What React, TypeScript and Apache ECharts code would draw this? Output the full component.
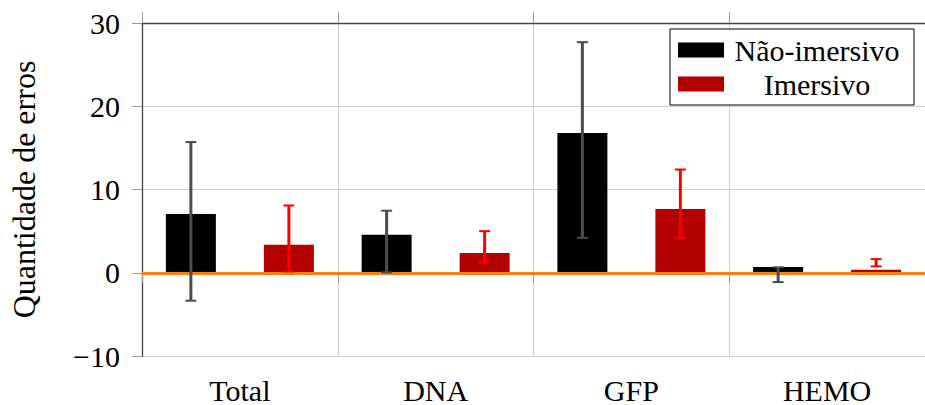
import React, { useEffect, useRef } from "react";
import * as echarts from "echarts";

const categories = ["Total", "DNA", "GFP", "HEMO"];
const naoImersivo = [7.05, 4.56, 16.8, 0.68];
const imersivo = [3.36, 2.36, 7.65, 0.36];
const naoLow = [-3.36, 0.04, 4.2, -1.12];
const naoHigh = [15.7, 7.45, 27.7, 0.66];
const imLow = [0.16, 1.24, 4.2, 0.76];
const imHigh = [8.08, 5.0, 12.4, 1.64];
const yTicks = { min: -10, max: 30, interval: 10 };

const FONT = "Liberation Serif";
const BAR_W = 50;
const BAR_GAP = 48;

function errorSeries(name: string, low: number[], high: number[], side: number, color: string) {
  return {
    type: "custom",
    name,
    z: 10,
    silent: true,
    data: categories.map((_, i) => [i, low[i], high[i]]),
    encode: { x: 0, y: [1, 2] },
    renderItem: (params: any, api: any) => {
      const idx = api.value(0);
      const lo = api.coord([idx, api.value(1)]);
      const hi = api.coord([idx, api.value(2)]);
      const x = lo[0] + side * (BAR_W + BAR_GAP) / 2;
      const cap = 5.5;
      const style = { stroke: color, lineWidth: 3 };
      return {
        type: "group",
        children: [
          { type: "line", shape: { x1: x, y1: hi[1], x2: x, y2: lo[1] }, style },
          { type: "line", shape: { x1: x - cap, y1: hi[1], x2: x + cap, y2: hi[1] }, style: { stroke: color, lineWidth: 2 } },
          { type: "line", shape: { x1: x - cap, y1: lo[1], x2: x + cap, y2: lo[1] }, style: { stroke: color, lineWidth: 2 } },
        ],
      };
    },
  };
}

export default function App() {
  const ref = useRef<HTMLDivElement>(null);
  useEffect(() => {
    if (!ref.current) return;
    const chart = echarts.init(ref.current, null, { renderer: "svg" });
    const axisLineStyle = { color: "#444", width: 1.3 };
    chart.setOption({
      animation: false,
      textStyle: { fontFamily: FONT, color: "#000" },
      grid: { left: 140, top: 23, width: 788, height: 333, containLabel: false },
      legend: {
        data: ["Não-imersivo", "Imersivo"],
        orient: "vertical",
        left: 670,
        top: 29,
        padding: [6, 9, 6, 8],
        itemGap: 4,
        itemWidth: 46,
        itemHeight: 15,
        icon: "rect",
        backgroundColor: "#fff",
        borderColor: "#000",
        borderWidth: 1,
        borderRadius: 0,
        formatter: (n: string) => `{a|${n}}`,
        textStyle: {
          fontFamily: FONT,
          fontSize: 30,
          color: "#000",
          rich: { a: { fontFamily: FONT, fontSize: 30, lineHeight: 27, width: 176, align: "center", color: "#000" } },
        },
      },
      xAxis: [
        {
          type: "category",
          data: categories,
          position: "bottom",
          boundaryGap: true,
          axisLine: { show: true, lineStyle: axisLineStyle },
          axisTick: { show: true, length: 10, lineStyle: { color: "#999" } },
          splitLine: { show: true, lineStyle: { color: "#d0d0d0", width: 1 } },
          axisLabel: { fontFamily: FONT, fontSize: 30, color: "#000", margin: 19 },
        },
        {
          type: "category",
          data: categories,
          position: "top",
          boundaryGap: true,
          axisLine: { show: true, lineStyle: axisLineStyle },
          axisTick: { show: true, length: 11, lineStyle: { color: "#999" } },
          splitLine: { show: false },
          axisLabel: { show: false },
        },
      ],
      yAxis: {
        type: "value",
        min: yTicks.min,
        max: yTicks.max,
        interval: yTicks.interval,
        name: "Quantidade de erros",
        nameLocation: "middle",
        nameGap: 102,
        nameTextStyle: { fontFamily: FONT, fontSize: 32, color: "#000" },
        axisLine: { show: true, lineStyle: axisLineStyle },
        axisTick: { show: true, length: 10, lineStyle: { color: "#999" } },
        splitLine: { show: true, lineStyle: { color: "#d0d0d0", width: 1 } },
        axisLabel: {
          fontFamily: FONT,
          fontSize: 30,
          color: "#000",
          margin: 22,
          formatter: (v: number) => (v < 0 ? "\u2212" + Math.abs(v) : String(v)),
        },
      },
      series: [
        {
          type: "bar",
          name: "Não-imersivo",
          data: naoImersivo,
          barWidth: BAR_W,
          barGap: `${(BAR_GAP / BAR_W) * 100}%`,
          itemStyle: { color: "#000" },
          z: 2,
        },
        {
          type: "bar",
          name: "Imersivo",
          data: imersivo,
          barWidth: BAR_W,
          itemStyle: { color: "#b30000" },
          z: 2,
          markLine: {
            silent: true,
            symbol: "none",
            z: 5,
            label: { show: false },
            lineStyle: { color: "#ff7f0e", width: 3, type: "solid" },
            data: [{ yAxis: 0 }],
          },
        },
        errorSeries("errNao", naoLow, naoHigh, -1, "#4d4d4d"),
        errorSeries("errIm", imLow, imHigh, 1, "#ff0000"),
      ],
    });
    return () => chart.dispose();
  }, []);
  return <div ref={ref} style={{ width: 925, height: 405, position: "absolute", left: 0, top: 0 }} />;
}
